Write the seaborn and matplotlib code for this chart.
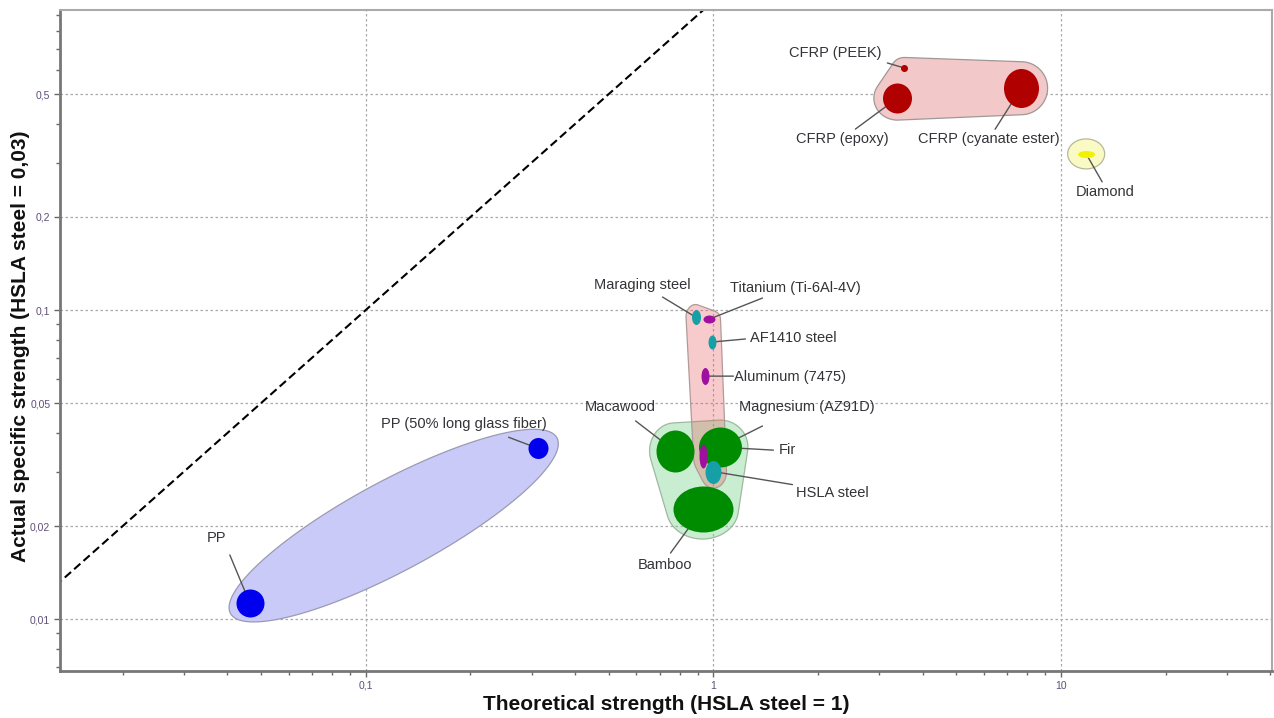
import numpy as np
import matplotlib
matplotlib.use("Agg")
import matplotlib.pyplot as plt
import seaborn as sns
from matplotlib.path import Path
from matplotlib.transforms import Affine2D
from matplotlib.ticker import FixedLocator, FuncFormatter, LogLocator, NullFormatter

# ---------------- data ----------------
materials = ["PP", "PP (50% long glass fiber)", "CFRP (PEEK)", "CFRP (epoxy)",
             "CFRP (cyanate ester)", "Diamond", "Maraging steel", "Titanium (Ti-6Al-4V)",
             "AF1410 steel", "Aluminum (7475)", "Magnesium (AZ91D)", "HSLA steel",
             "Macawood", "Fir", "Bamboo"]
theoretical = [0.0464, 0.312, 3.54, 3.38, 7.67, 11.8, 0.888, 0.974,
               0.993, 0.948, 0.930, 1.0, 0.773, 1.047, 0.930]
specific = [0.01127, 0.0357, 0.607, 0.485, 0.522, 0.320, 0.0949, 0.0935,
            0.0788, 0.0611, 0.0337, 0.030, 0.0350, 0.0360, 0.0227]
groups = ["Polypropylene", "Polypropylene", "CFRP", "CFRP", "CFRP", "Diamond",
          "Metals", "Metals", "Metals", "Metals", "Metals", "Metals",
          "Woods", "Woods", "Woods"]

x_ticks = [0.1, 1, 10]
y_ticks = [0.01, 0.02, 0.05, 0.1, 0.2, 0.5]
diag = [0.01, 1.0]          # reference line: actual = theoretical

# ---------------- style ----------------
marker_colors = ["#0000ee", "#0000ee", "#b00000", "#b00000", "#b00000", "#f2f200",
                 "#14a0a6", "#a0109e", "#14a0a6", "#a0109e", "#a0109e", "#14a0a6",
                 "#008c00", "#008c00", "#008c00"]
# marker sizes in pixels (width, height)
marker_w = [28, 20, 7, 29, 35, 17, 9, 12, 8, 8, 8, 16, 38, 43, 60]
marker_h = [28, 21, 7, 30, 39, 7, 15, 8, 14, 17, 24, 23, 42, 40, 46]
# text centre and leader start, pixel offsets from the point (x right, y down)
text_off = [(-33, -65), (-74, -24), (-69, -15), (-55, 41), (-32, 51), (19, 38),
            (-53, -32), (86, -31), (81, -4), (85, 1), (104, -49), (119, 21),
            (-54, -44), (67, 3), (-38, 56)]
line_off = [(-20, -48), (-29, -11), (-17, -5), (-42, 31), (-26, 41), (16, 28),
            (-33, -20), (53, -21), (33, -3), (28, 0), (60, -30), (79, 13),
            (-39, -30), (53, 3), (-32, 44)]
envelopes = {
    "Woods": dict(kind="hull", pad=(6, 7), fc=(120/255, 210/255, 140/255, 0.40), ec="#a0b8a0"),
    "Metals": dict(kind="hull", pad=(5, 5), fc=(231/255, 85/255, 85/255, 0.30), ec="#b09a9a"),
    "CFRP": dict(kind="hull", pad=(9, 7), fc="#f2c8c8", ec="#a09898"),
    "Diamond": dict(kind="hull", pad=(10, 11.5), fc="#fafac4", ec="#b8b898"),
    "Polypropylene": dict(kind="ellipse", pad=(22, 45), fc="#cacaf8", ec="#9a9ab4"),
}
marker_layer = {"Woods": 5}

sns.set_theme(style="white")
plt.rcParams["font.family"] = ["Liberation Sans", "DejaVu Sans"]

W, H = 1274, 718
fig = plt.figure(figsize=(W / 100, H / 100), dpi=100)
ax = fig.add_axes([60 / W, 47 / H, 1212 / W, 661 / H])
ax.set_xscale("log")
ax.set_yscale("log")
ax.set_xlim(0.0132, 40.4)
ax.set_ylim(0.00679, 0.935)


def hull(points):
    pts = sorted(set(map(tuple, np.round(points, 3))))
    def cross(o, a, b):
        return (a[0] - o[0]) * (b[1] - o[1]) - (a[1] - o[1]) * (b[0] - o[0])
    lower, upper = [], []
    for p in pts:
        while len(lower) >= 2 and cross(lower[-2], lower[-1], p) <= 0:
            lower.pop()
        lower.append(p)
    for p in reversed(pts):
        while len(upper) >= 2 and cross(upper[-2], upper[-1], p) <= 0:
            upper.pop()
        upper.append(p)
    return np.array(lower[:-1] + upper[:-1])


t = np.linspace(0, 2 * np.pi, 120, endpoint=False)
inv = ax.transData.inverted()
for g, st in envelopes.items():
    idx = [i for i, gg in enumerate(groups) if gg == g]
    disp = ax.transData.transform(np.column_stack([[theoretical[i] for i in idx],
                                                   [specific[i] for i in idx]]))
    if st["kind"] == "hull":
        pts = []
        for k, i in enumerate(idx):
            rx = marker_w[i] / 2 + st["pad"][0]
            ry = marker_h[i] / 2 + st["pad"][1]
            pts.append(np.column_stack([disp[k, 0] + rx * np.cos(t), disp[k, 1] + ry * np.sin(t)]))
        poly = hull(np.vstack(pts))
    else:
        c = disp.mean(axis=0)
        d = disp[-1] - disp[0]
        ang = np.arctan2(d[1], d[0])
        a = np.hypot(*d) / 2 + st["pad"][0]
        b = st["pad"][1]
        u, v = a * np.cos(t), b * np.sin(t)
        poly = np.column_stack([c[0] + u * np.cos(ang) - v * np.sin(ang),
                                c[1] + u * np.sin(ang) + v * np.cos(ang)])
    dpoly = inv.transform(poly)
    ax.fill(dpoly[:, 0], dpoly[:, 1], facecolor=st["fc"], edgecolor=st["ec"],
            linewidth=0.9, zorder=1)

# reference line y = x
sns.lineplot(x=diag, y=diag, ax=ax, color="black", linewidth=1.5,
             linestyle=(0, (4, 2)), zorder=2)

# material markers
for i in range(len(materials)):
    w, h = marker_w[i], marker_h[i]
    m = Path.unit_circle().transformed(Affine2D().scale(w, h))
    sns.scatterplot(x=[theoretical[i]], y=[specific[i]], ax=ax, marker=m,
                    s=(max(w, h) * 0.72) ** 2, color=marker_colors[i],
                    linewidth=0, zorder=marker_layer.get(groups[i], 6), legend=False)

# labels with leader lines
for i, name in enumerate(materials):
    tx, ty = text_off[i]
    lx, ly = line_off[i]
    ax.annotate("", xy=(theoretical[i], specific[i]), xytext=(lx, -ly),
                textcoords="offset pixels",
                arrowprops=dict(arrowstyle="-", color="#555555", lw=1.0,
                                shrinkA=0, shrinkB=0), zorder=4)
    ax.annotate(name, xy=(theoretical[i], specific[i]), xytext=(tx, -ty),
                textcoords="offset pixels", ha="center", va="center",
                fontsize=10.5, color="#333338", zorder=7)

# axes styling
ax.xaxis.set_major_locator(FixedLocator(x_ticks))
ax.yaxis.set_major_locator(FixedLocator(y_ticks))
ax.xaxis.set_minor_locator(LogLocator(base=10, subs=np.arange(2, 10)))
ax.yaxis.set_minor_locator(LogLocator(base=10, subs=np.arange(2, 10)))
ax.xaxis.set_minor_formatter(NullFormatter())
ax.yaxis.set_minor_formatter(NullFormatter())
fmt = FuncFormatter(lambda v, p: f"{v:g}".replace(".", ","))
ax.xaxis.set_major_formatter(fmt)
ax.yaxis.set_major_formatter(fmt)
ax.tick_params(which="both", direction="out", color="#666666", labelsize=7.5,
               labelcolor="#5e4f78")
ax.tick_params(which="major", length=4, width=1, pad=3)
ax.tick_params(which="minor", length=3, width=1)
ax.tick_params(axis="x", which="both", bottom=True)
ax.tick_params(axis="y", which="both", left=True)
ax.grid(True, which="major", color="#aaaaaa", linewidth=0.9, linestyle=(0, (2, 2)))
ax.set_axisbelow(True)
for s in ["left", "bottom"]:
    ax.spines[s].set_color("#777777")
    ax.spines[s].set_linewidth(2)
for s in ["top", "right"]:
    ax.spines[s].set_color("#aaaaaa")
    ax.spines[s].set_linewidth(1.5)

ax.set_xlabel("Theoretical strength (HSLA steel = 1)", fontsize=15,
              fontweight="bold", color="#111111")
ax.set_ylabel("Actual specific strength (HSLA steel = 0,03)", fontsize=15,
              fontweight="bold", color="#111111")
ax.xaxis.set_label_coords(0.5, -0.036)
ax.yaxis.set_label_coords(-0.025, 0.492)

fig.savefig("out.png", dpi=100)
